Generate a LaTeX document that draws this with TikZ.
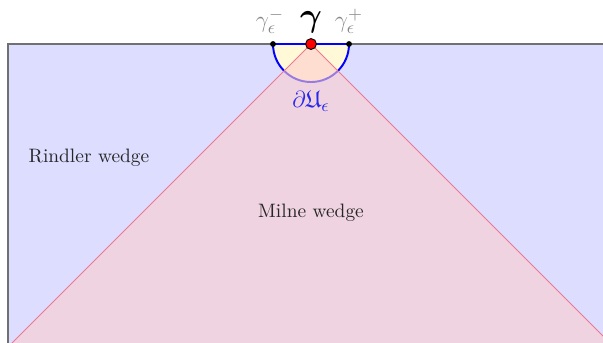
\documentclass[tikz,border=0pt]{standalone}
\usepackage{amsmath,amssymb,bm}
\definecolor{wedgeblue}{RGB}{221,221,255}
\definecolor{semiyellow}{RGB}{255,249,215}
\definecolor{conepink}{RGB}{252,205,205}
\definecolor{conered}{RGB}{238,120,145}
\definecolor{framegray}{RGB}{112,112,112}
\definecolor{labgray}{RGB}{135,135,135}
\definecolor{dublue}{RGB}{40,40,235}
\tikzset{
  endpt/.style={circle,fill=black,inner sep=0pt,minimum size=3pt},
  gpt/.style={circle,fill=red,draw=black,line width=0.5pt,inner sep=0pt,minimum size=5.6pt},
  lab/.style={inner sep=0pt},
  mlab/.style={inner sep=0pt,font=\fontsize{12.5}{15}\selectfont},
  wlab/.style={inner sep=0pt,text=black!85,font=\fontsize{10}{12}\selectfont},
}
\begin{document}
\begin{tikzpicture}[x=0.5154pt,y=-0.5154pt]
\useasboundingbox (0,0) rectangle (603,342);
\clip (0,0) rectangle (603,342);
% Rindler region
\fill[wedgeblue] (8,44) rectangle (640,380);
% frame
\draw[framegray,line width=1pt] (8,400) -- (8,44) -- (640,44);
% semicircle
\coordinate (g) at (311,44);
\coordinate (gm) at (273,44);
\coordinate (gp) at (349,44);
\fill[semiyellow] (gm) arc[start angle=180,end angle=0,radius=38] -- cycle;
\draw[blue,line width=1pt] (gm) arc[start angle=180,end angle=0,radius=38] -- cycle;
% Milne cone
\coordinate (cl) at (-16,371);
\coordinate (cr) at (638,371);
\fill[conepink,opacity=0.6] (g) -- (cl) -- (cr) -- cycle;
\draw[conered,line width=0.5pt] (cl) -- (g) -- (cr);
% points
\node[endpt] (pm) at (gm) {};
\node[endpt] (pp) at (gp) {};
\node[gpt] (pg) at (g) {};
% labels
\node[mlab,text=labgray] (lm) at (270,21) {$\gamma_\epsilon^-$};
\node[mlab,text=labgray] (lp) at (349,21) {$\gamma_\epsilon^+$};
\node[lab,font=\fontsize{19}{22}\selectfont] (lg) at (311,22) {$\bm{\gamma}$};
\node[mlab,text=dublue] (lu) at (311,101) {$\partial\mathfrak{U}_\epsilon$};
\node[wlab] (rw) at (89,158) {Rindler wedge};
\node[wlab] (mw) at (311,213) {Milne wedge};
\end{tikzpicture}
\end{document}
